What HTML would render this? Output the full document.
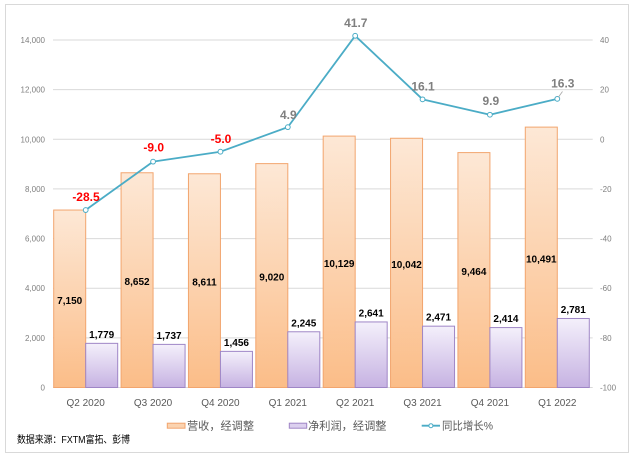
<!DOCTYPE html>
<html><head><meta charset="utf-8"><style>
html,body{margin:0;padding:0;background:#fff;width:635px;height:459px;overflow:hidden}
svg{display:block}
text{font-family:"Liberation Sans","Noto Sans CJK SC",sans-serif}
</style></head><body>
<svg width="635" height="459" viewBox="0 0 635 459" xmlns="http://www.w3.org/2000/svg">
<defs>
<linearGradient id="og" x1="0" y1="0" x2="0" y2="1"><stop offset="0" stop-color="#fde8d6"/><stop offset="1" stop-color="#fbbd88"/></linearGradient>
<linearGradient id="pg" x1="0" y1="0" x2="0" y2="1"><stop offset="0" stop-color="#f4f0fb"/><stop offset="1" stop-color="#c6b2e2"/></linearGradient>
</defs>
<rect x="0" y="0" width="635" height="459" fill="#fff"/>
<rect x="5.5" y="4.5" width="623" height="448" fill="#fff" stroke="#d9d9d9" stroke-width="1"/>
<g stroke="#d9d9d9" stroke-width="1">
<line x1="53" y1="40" x2="592.7" y2="40"/>
<line x1="53" y1="89.6" x2="592.7" y2="89.6"/>
<line x1="53" y1="139.3" x2="592.7" y2="139.3"/>
<line x1="53" y1="188.9" x2="592.7" y2="188.9"/>
<line x1="53" y1="238.6" x2="592.7" y2="238.6"/>
<line x1="53" y1="288.2" x2="592.7" y2="288.2"/>
<line x1="53" y1="337.9" x2="592.7" y2="337.9"/>
<line x1="53" y1="387.5" x2="592.7" y2="387.5"/>
</g>
<g font-size="8" fill="#7f7f7f" text-anchor="end">
<text x="45" y="43">14,000</text>
<text x="45" y="92.6">12,000</text>
<text x="45" y="142.3">10,000</text>
<text x="45" y="191.9">8,000</text>
<text x="45" y="241.6">6,000</text>
<text x="45" y="291.2">4,000</text>
<text x="45" y="340.9">2,000</text>
<text x="45" y="390.5">0</text>
</g>
<g font-size="8" fill="#7f7f7f" text-anchor="start">
<text x="600" y="43">40</text>
<text x="600" y="92.6">20</text>
<text x="600" y="142.3">0</text>
<text x="600" y="191.9">-20</text>
<text x="600" y="241.6">-40</text>
<text x="600" y="291.2">-60</text>
<text x="600" y="340.9">-80</text>
<text x="600" y="390.5">-100</text>
</g>
<g fill="url(#og)" stroke="#f2a56e" stroke-width="1">
<rect x="53.7" y="210.04" width="32" height="177.46"/>
<rect x="121.07" y="172.76" width="32" height="214.74"/>
<rect x="188.44" y="173.77" width="32" height="213.73"/>
<rect x="255.81" y="163.62" width="32" height="223.88"/>
<rect x="323.18" y="136.10" width="32" height="251.40"/>
<rect x="390.55" y="138.26" width="32" height="249.24"/>
<rect x="457.92" y="152.60" width="32" height="234.90"/>
<rect x="525.29" y="127.11" width="32" height="260.39"/>
</g>
<g fill="url(#pg)" stroke="#9f86c6" stroke-width="1">
<rect x="85.7" y="343.35" width="32" height="44.15"/>
<rect x="153.07" y="344.39" width="32" height="43.11"/>
<rect x="220.44" y="351.36" width="32" height="36.14"/>
<rect x="287.81" y="331.78" width="32" height="55.72"/>
<rect x="355.18" y="321.95" width="32" height="65.55"/>
<rect x="422.55" y="326.17" width="32" height="61.33"/>
<rect x="489.92" y="327.58" width="32" height="59.92"/>
<rect x="557.29" y="318.48" width="32" height="69.02"/>
</g>
<g font-size="10" font-weight="bold" fill="#000" text-anchor="middle">
<text x="69.7" y="303.8">7,150</text>
<text x="137.07" y="285.1">8,652</text>
<text x="204.44" y="285.6">8,611</text>
<text x="271.81" y="280.6">9,020</text>
<text x="339.18" y="266.8">10,129</text>
<text x="406.55" y="267.9">10,042</text>
<text x="473.92" y="275.0">9,464</text>
<text x="541.29" y="262.3">10,491</text>
<text x="101.7" y="337.8">1,779</text>
<text x="169.07" y="338.9">1,737</text>
<text x="236.44" y="345.9">1,456</text>
<text x="303.81" y="326.3">2,245</text>
<text x="371.18" y="316.4">2,641</text>
<text x="438.55" y="320.7">2,471</text>
<text x="505.92" y="322.1">2,414</text>
<text x="573.29" y="313.0">2,781</text>
</g>
<polyline fill="none" stroke="#4bacc6" stroke-width="1.8" stroke-linejoin="round" points="85.7,210.04 153.07,161.64 220.44,151.71 287.81,127.14 355.18,35.80 422.55,99.34 489.92,114.73 557.29,98.84"/>
<g fill="#fff" stroke="#4bacc6" stroke-width="1">
<circle cx="85.7" cy="210.04" r="2.4"/>
<circle cx="153.07" cy="161.64" r="2.4"/>
<circle cx="220.44" cy="151.71" r="2.4"/>
<circle cx="287.81" cy="127.14" r="2.4"/>
<circle cx="355.18" cy="35.80" r="2.4"/>
<circle cx="422.55" cy="99.34" r="2.4"/>
<circle cx="489.92" cy="114.73" r="2.4"/>
<circle cx="557.29" cy="98.84" r="2.4"/>
</g>
<line x1="558.5" y1="97" x2="562.5" y2="91.5" stroke="#a6a6a6" stroke-width="0.8"/>
<g font-size="12" font-weight="bold" text-anchor="middle">
<text x="86" y="201" fill="#ff0000">-28.5</text>
<text x="153.7" y="151.3" fill="#ff0000">-9.0</text>
<text x="221" y="143" fill="#ff0000">-5.0</text>
<text x="288.3" y="119" fill="#7f7f7f">4.9</text>
<text x="355.8" y="27" fill="#7f7f7f">41.7</text>
<text x="423" y="90.3" fill="#7f7f7f">16.1</text>
<text x="490.8" y="105" fill="#7f7f7f">9.9</text>
<text x="562.8" y="87.6" fill="#7f7f7f">16.3</text>
</g>
<g font-size="10" fill="#595959" text-anchor="middle">
<text x="85.7" y="406">Q2 2020</text>
<text x="153.07" y="406">Q3 2020</text>
<text x="220.44" y="406">Q4 2020</text>
<text x="287.81" y="406">Q1 2021</text>
<text x="355.18" y="406">Q2 2021</text>
<text x="422.55" y="406">Q3 2021</text>
<text x="489.92" y="406">Q4 2021</text>
<text x="557.29" y="406">Q1 2022</text>
</g>
<rect x="167.3" y="423.2" width="17.7" height="5" fill="#fbd3b0" stroke="#f2a56e" stroke-width="1"/>
<text x="187" y="429.6" font-size="11" fill="#595959" textLength="67" lengthAdjust="spacingAndGlyphs">营收，经调整</text>
<rect x="289.3" y="423.2" width="17.4" height="5" fill="#dcd0ef" stroke="#9f86c6" stroke-width="1"/>
<text x="308" y="429.6" font-size="11" fill="#595959" textLength="78.5" lengthAdjust="spacingAndGlyphs">净利润，经调整</text>
<line x1="421.7" y1="425.7" x2="440" y2="425.7" stroke="#4bacc6" stroke-width="1.8"/>
<circle cx="430.9" cy="425.7" r="2" fill="#fff" stroke="#4bacc6" stroke-width="1"/>
<text x="442" y="429.6" font-size="11" fill="#595959" textLength="51" lengthAdjust="spacingAndGlyphs">同比增长%</text>
<text x="17" y="442.8" font-size="10" fill="#000" textLength="113" lengthAdjust="spacingAndGlyphs">数据来源：FXTM富拓、彭博</text>
</svg>
</body></html>
